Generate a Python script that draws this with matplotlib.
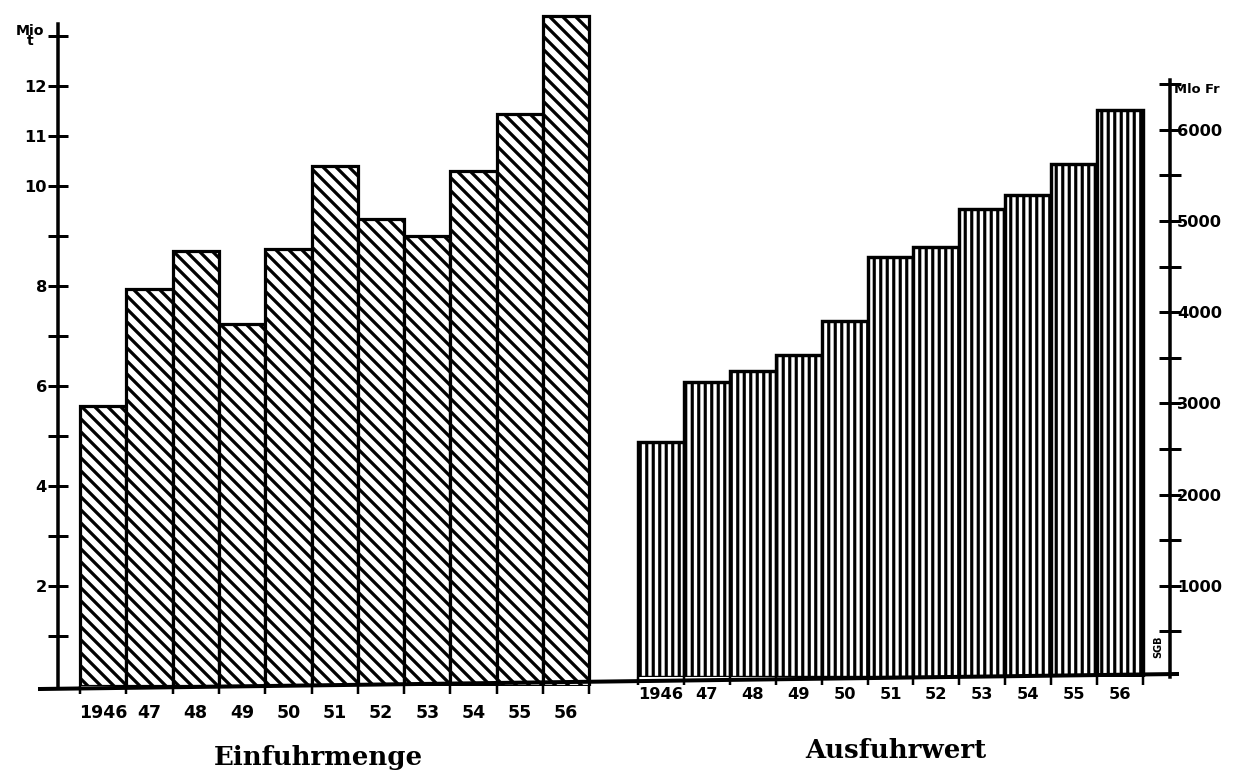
import matplotlib
matplotlib.use("Agg")
import matplotlib.pyplot as plt
from matplotlib.lines import Line2D
import numpy as np

# data
years = ["1946", "47", "48", "49", "50", "51", "52", "53", "54", "55", "56"]
import_mio_t = [5.6, 7.95, 8.7, 7.25, 8.75, 10.4, 9.35, 9.0, 10.3, 11.45, 13.4]
export_mio_fr = [2580, 3240, 3360, 3530, 3900, 4610, 4710, 5130, 5280, 5620, 6220]

left_ticks = list(range(1, 14))
left_labels = {2: "2", 4: "4", 6: "6", 8: "8", 10: "10", 11: "11", 12: "12"}
right_ticks = list(range(500, 6501, 500))
right_labels = {1000: "1000", 2000: "2000", 3000: "3000", 4000: "4000",
                5000: "5000", 6000: "6000"}

DPI = 78
W, H = 1237, 771
fig = plt.figure(figsize=(W / DPI, H / DPI), dpi=DPI, facecolor="white")

def px_axes(x0, x1, y_top, y_bot):
    # place an axes using pixel coordinates of the picture
    return fig.add_axes([x0 / W, 1 - y_bot / H, (x1 - x0) / W, (y_bot - y_top) / H])

def pt(px):
    return px * 72 / DPI

tick_font = dict(family="DejaVu Sans", weight="bold")

# ---- left: Einfuhrmenge
base1 = 686
ax1 = px_axes(40, 600, 5, base1)
bw1, x0_1 = 46.3, 80
ax1.set_xlim(-0.5 - (x0_1 - 40) / bw1, -0.5 + (600 - x0_1) / bw1)
ax1.set_ylim(0, (base1 - 5) / 50.0)
with plt.rc_context({"hatch.linewidth": 3.0}):
    bars1 = ax1.bar(np.arange(len(years)), import_mio_t, width=1.0, color="white",
                    edgecolor="black", linewidth=pt(3.2), hatch="\\\\")
for b in bars1:
    if hasattr(b, "set_hatch_linewidth"):
        b.set_hatch_linewidth(3.0)

# ---- right: Ausfuhrwert
base2 = 677
ax2 = px_axes(600, 1180, 5, base2)
bw2, x0_2 = 45.9, 638
ax2.set_xlim(-0.5 - (x0_2 - 600) / bw2, -0.5 + (1180 - x0_2) / bw2)
ax2.set_ylim(0, (base2 - 5) / 0.0912)
with plt.rc_context({"hatch.linewidth": 2.9}):
    bars2 = ax2.bar(np.arange(len(years)), export_mio_fr, width=1.0, color="white",
                    edgecolor="black", linewidth=pt(3.4), hatch="||")
for b in bars2:
    if hasattr(b, "set_hatch_linewidth"):
        b.set_hatch_linewidth(2.9)

for ax in (ax1, ax2):
    ax.set_facecolor("none")
    ax.spines["top"].set_visible(False)
    ax.spines["bottom"].set_visible(False)
    ax.set_xticks(np.arange(len(years)))
    ax.set_xticks(np.arange(len(years) + 1) - 0.5, minor=True)
    ax.tick_params(axis="x", which="major", length=0)
    ax.tick_params(axis="x", which="minor", direction="out", length=pt(8), width=pt(2.5))

# common base line, slightly slanted like the printed one
fig.add_artist(Line2D([40 / W, 1177 / W], [1 - 689 / H, 1 - 674 / H],
                      color="black", linewidth=pt(4)))

ax1.set_xticklabels(years, fontsize=16, **tick_font)
ax1.tick_params(axis="x", which="major", pad=pt(18))
ax2.set_xticklabels(years, fontsize=15, **tick_font)
ax2.tick_params(axis="x", which="major", pad=pt(10))

# left value axis
ax1.spines["right"].set_visible(False)
ax1.spines["left"].set_position(("axes", (58 - 40) / 560))
ax1.spines["left"].set_linewidth(pt(3.5))
ax1.spines["left"].set_bounds(0, 13.25)
ax1.set_yticks(left_ticks)
ax1.set_yticklabels([left_labels.get(t, "") for t in left_ticks], fontsize=15, **tick_font)
ax1.tick_params(axis="y", direction="inout", length=pt(20), width=pt(3), pad=pt(1))
ax1.text(-0.018, 13.0, "Mio\nt", transform=ax1.get_yaxis_transform(), ha="center",
         va="center", fontsize=13, linespacing=0.7, **tick_font)

# right value axis
ax2.spines["left"].set_visible(False)
ax2.spines["right"].set_position(("axes", (1170 - 600) / 580))
ax2.spines["right"].set_linewidth(pt(3.5))
ax2.spines["right"].set_bounds(0, 6550)
ax2.yaxis.tick_right()
ax2.set_yticks(right_ticks)
ax2.set_yticklabels([right_labels.get(t, "") for t in right_ticks], fontsize=15, **tick_font)
ax2.tick_params(axis="y", direction="inout", length=pt(22), width=pt(3), pad=pt(-4))
ax2.text(0.99, 6440, "Mlo Fr", transform=ax2.get_yaxis_transform(), ha="left",
         va="center", fontsize=12, **tick_font)
ax2.text(0.963, 330, "SGB", transform=ax2.get_yaxis_transform(), rotation=90,
         ha="center", va="center", fontsize=9, **tick_font)

# titles under the groups
fig.text(318 / W, 1 - 757 / H, "Einfuhrmenge", ha="center", va="center",
         family="DejaVu Serif", weight="bold", fontsize=24)
fig.text(896 / W, 1 - 750 / H, "Ausfuhrwert", ha="center", va="center",
         family="DejaVu Serif", weight="bold", fontsize=24)

fig.savefig("out.png", dpi=DPI, facecolor="white")
